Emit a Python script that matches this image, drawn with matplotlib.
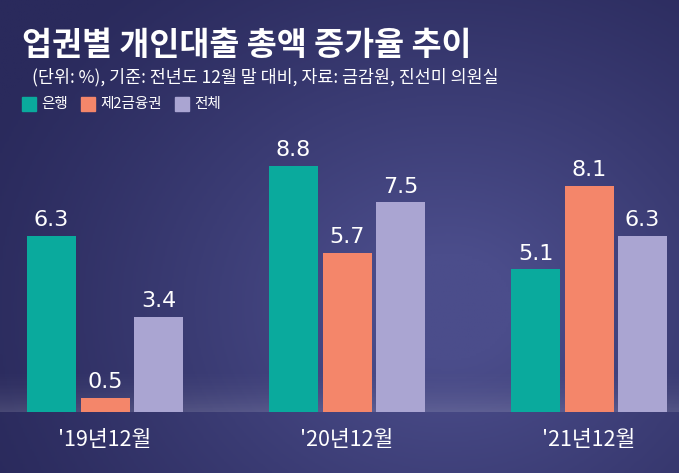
import numpy as np
import matplotlib
matplotlib.use("Agg")
import matplotlib.pyplot as plt
from matplotlib.colors import LinearSegmentedColormap

# data
periods = ["'19년12월", "'20년12월", "'21년12월"]
series = ["은행", "제2금융권", "전체"]
bank = [6.3, 8.8, 5.1]
nonbank = [0.5, 5.7, 8.1]
total = [3.4, 7.5, 6.3]
colors = ["#0aaa9d", "#f4866a", "#aaa5d2"]

plt.rcParams["font.family"] = ["Noto Sans CJK KR", "DejaVu Sans"]

W, H = 679, 473
fig = plt.figure(figsize=(W / 100, H / 100), dpi=100)

# background: dark navy with a lighter glow right of centre
bg = fig.add_axes([0, 0, 1, 1], zorder=-2)
yy, xx = np.mgrid[0:1:200j, 0:1:300j]
r = np.sqrt(((xx - 0.66) / 0.75) ** 2 + ((yy - 0.35) / 0.9) ** 2)
glow = np.clip(1 - r, 0, 1) ** 1.2
cmap = LinearSegmentedColormap.from_list("bg", ["#2a2a5c", "#4b4d8b"])
bg.imshow(glow, cmap=cmap, aspect="auto", extent=(0, 1, 1, 0), vmin=0, vmax=0.85)
# faint reflection band along the baseline
band = np.linspace(0, 1, 50)[:, None] ** 2 * np.ones((1, 10))
bg.imshow(band, cmap=LinearSegmentedColormap.from_list("b", ["#ffffff00", "#ffffff22"]),
          aspect="auto", extent=(0, 1, 61 / H, 110 / H), zorder=1)
bg.set_xlim(0, 1)
bg.set_ylim(0, 1)
bg.axis("off")

# bar axes: baseline at 412px from top, 242px between groups
base = H - 412
ax = fig.add_axes([0, base / H, 1, (H - base) / H])
ax.patch.set_alpha(0)
px_group = 242.0
ax.set_xlim(-105 / px_group, (W - 105) / px_group)
ax.set_ylim(0, 412 / 27.95)
ax.axis("off")

x = np.arange(len(periods))
step = 53.5 / px_group
width = 49 / px_group
for k, (vals, c) in enumerate(zip([bank, nonbank, total], colors)):
    pos = x + (k - 1) * step
    ax.bar(pos, vals, width=width, color=c)
    for p, v in zip(pos, vals):
        ax.text(p, v + 0.2, f"{v:.1f}", ha="center", va="bottom", color="white",
                fontsize=16, family=["Liberation Sans Narrow", "DejaVu Sans"])

for p, lab in zip(x, periods):
    ax.text(p, -0.6, lab, ha="center", va="top", color="white", fontsize=15.5)

# title, note, legend
fig.text(22 / W, 1 - 46 / H, "업권별 개인대출 총액 증가율 추이", color="white",
         fontsize=23.5, fontweight="bold", va="center", ha="left")
fig.text(32 / W, 1 - 77 / H, "(단위: %), 기준: 전년도 12월 말 대비, 자료: 금감원, 진선미 의원실",
         color="white", fontsize=12.5, va="center", ha="left")
leg_x = [22, 81, 175]
for lx, name, c in zip(leg_x, series, colors):
    fig.patches.append(plt.Rectangle((lx / W, 1 - 111 / H), 14 / W, 14 / H,
                                     transform=fig.transFigure, color=c))
    fig.text((lx + 19) / W, 1 - 104 / H, name, color="white", fontsize=10.5,
             va="center", ha="left")

fig.savefig("out.png", dpi=100)
